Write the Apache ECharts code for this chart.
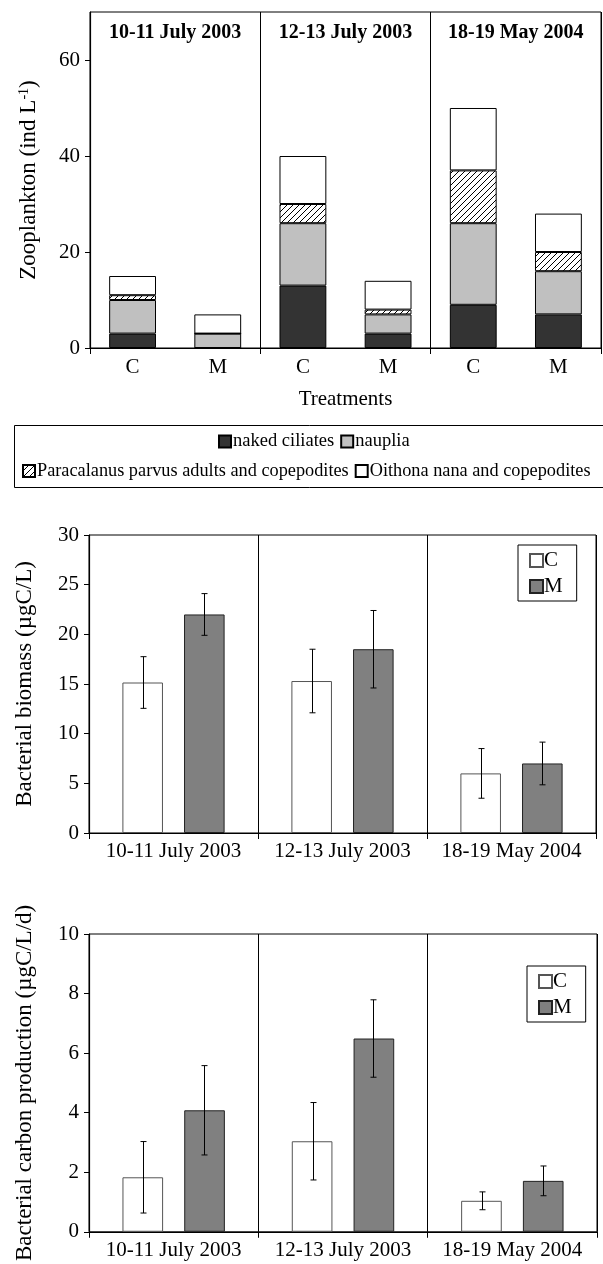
<!DOCTYPE html>
<html>
<head>
<meta charset="utf-8">
<script src="https://cdn.jsdelivr.net/npm/echarts@6/dist/echarts.min.js"></script>
<style>
html,body{margin:0;padding:0;background:#fff;}
#chart{width:603px;height:1264px;}
</style>
</head>
<body>
<div id="chart"></div>
<script>
// ---- data ----
const groups = ['10-11 July 2003', '12-13 July 2003', '18-19 May 2004'];
const treatments = ['C', 'M', 'C', 'M', 'C', 'M'];
const ciliates = [3, 0, 13, 3, 9, 7];
const nauplia = [7, 3, 13, 4, 17, 9];
const paracalanus = [1, 0, 4, 1, 11, 4];
const oithona = [4, 4, 10, 6, 13, 8];
const zooTicks = [0, 20, 40, 60];

const bioC = [15.15, 15.3, 6.0];
const bioCErr = [2.6, 3.2, 2.5];
const bioM = [22.0, 18.5, 7.0];
const bioMErr = [2.1, 3.9, 2.15];

const prodC = [1.83, 3.04, 1.04];
const prodCErr = [1.2, 1.3, 0.3];
const prodM = [4.08, 6.49, 1.71];
const prodMErr = [1.5, 1.3, 0.5];

// ---- styling helpers ----
const FONT = "'Liberation Serif', 'Times New Roman', serif";
const txt = (size, extra) => Object.assign({fontFamily: FONT, fontSize: size, color: '#000'}, extra || {});

function hatch() {
  const c = document.createElement('canvas');
  c.width = 6; c.height = 6;
  const g = c.getContext('2d');
  g.fillStyle = '#fff'; g.fillRect(0, 0, 6, 6);
  g.strokeStyle = '#000'; g.lineWidth = 1;
  g.beginPath();
  g.moveTo(0, 6); g.lineTo(6, 0);
  g.moveTo(-3, 3); g.lineTo(3, -3);
  g.moveTo(3, 9); g.lineTo(9, 3);
  g.stroke();
  return c;
}

const grids = [
  {left: 90, top: 12, width: 511, height: 336},
  {left: 89, top: 535, width: 507, height: 298},
  {left: 89, top: 934, width: 508, height: 298}
].map(g => Object.assign(g, {show: true, borderColor: '#000', borderWidth: 1, backgroundColor: 'transparent'}));

function groupAxis(gridIndex) {
  return {
    type: 'category', gridIndex: gridIndex, data: groups, position: 'bottom',
    axisLine: {show: true, lineStyle: {color: '#000', width: 1.2}},
    axisTick: {show: true, length: 6, lineStyle: {color: '#000'}},
    axisLabel: Object.assign({margin: 8, interval: 0}, txt(21)),
    splitLine: {show: true, lineStyle: {color: '#000', width: 1}}
  };
}

function valueAxis(gridIndex, max, interval, name, nameGap, extra) {
  return Object.assign({
    type: 'value', gridIndex: gridIndex, min: 0, max: max, interval: interval,
    name: name, nameLocation: 'middle', nameGap: nameGap, nameRotate: 90,
    nameTextStyle: txt(23),
    axisLine: {show: true, lineStyle: {color: '#000', width: 1.2}},
    axisTick: {show: true, length: 5, lineStyle: {color: '#000'}},
    axisLabel: Object.assign({margin: 10}, txt(21)),
    splitLine: {show: false}
  }, extra || {});
}

function errSeries(xIdx, yIdx, vals, errs, off) {
  return {
    type: 'custom', xAxisIndex: xIdx, yAxisIndex: yIdx, z: 10, silent: true,
    data: vals.map((v, i) => [i, v, errs[i]]),
    renderItem: function (params, api) {
      const i = api.value(0), v = api.value(1), e = api.value(2);
      const w = api.size([1, 0])[0];
      const c = api.coord([i, v]);
      const x = Math.round(c[0] + off * w) + 0.5;
      const yt = api.coord([i, v + e])[1];
      const yb = api.coord([i, v - e])[1];
      const st = {stroke: '#000', lineWidth: 1};
      return {type: 'group', children: [
        {type: 'line', shape: {x1: x, y1: yt, x2: x, y2: yb}, style: st},
        {type: 'line', shape: {x1: x - 3, y1: yt, x2: x + 3, y2: yt}, style: st},
        {type: 'line', shape: {x1: x - 3, y1: yb, x2: x + 3, y2: yb}, style: st}
      ]};
    }
  };
}

function pairBars(xIdx, yIdx, cVals, mVals) {
  const common = {type: 'bar', xAxisIndex: xIdx, yAxisIndex: yIdx, barWidth: '24%', barGap: '52%'};
  return [
    Object.assign({name: 'C', data: cVals, itemStyle: {color: '#fff', borderColor: '#555', borderWidth: 1}}, common),
    Object.assign({name: 'M', data: mVals, itemStyle: {color: '#808080', borderColor: '#222', borderWidth: 1}}, common)
  ];
}

function cmLegend(left, top) {
  return {
    data: ['C', 'M'], orient: 'vertical', left: left, top: top, selectedMode: false,
    backgroundColor: '#fff', borderColor: '#000', borderWidth: 1,
    padding: [5, 14, 4, 11], itemGap: 5, itemWidth: 13, itemHeight: 13, icon: 'rect',
    textStyle: txt(21, {padding: [0, 0, 0, -4]})
  };
}

const stackCommon = {type: 'bar', stack: 'z', xAxisIndex: 0, yAxisIndex: 0, barWidth: '55%'};

const option = {
  animation: false,
  backgroundColor: '#fff',
  grid: grids,
  xAxis: [
    {type: 'category', gridIndex: 0, data: treatments,
     axisLine: {show: true, lineStyle: {color: '#000', width: 1.2}},
     axisTick: {show: false}, axisLabel: Object.assign({margin: 9, interval: 0}, txt(21)),
     name: 'Treatments', nameLocation: 'middle', nameGap: 41, nameTextStyle: txt(21)},
    {type: 'category', gridIndex: 0, data: groups, position: 'bottom',
     axisLine: {show: false}, axisTick: {show: true, length: 6, lineStyle: {color: '#000'}},
     axisLabel: {show: false}, splitLine: {show: true, lineStyle: {color: '#000', width: 1}}},
    {type: 'category', gridIndex: 0, data: groups, position: 'top',
     axisLine: {show: false}, axisTick: {show: false},
     axisLabel: Object.assign({inside: true, margin: 11, interval: 0}, txt(20, {fontWeight: 'bold'})),
     splitLine: {show: false}},
    groupAxis(1),
    groupAxis(2)
  ],
  yAxis: [
    valueAxis(0, 70, 10, 'Zooplankton (ind L{s|-1})', 50, {
      nameTextStyle: txt(23, {rich: {s: {fontFamily: FONT, fontSize: 14, color: '#000', verticalAlign: 'top', lineHeight: 14}}}),
      axisLabel: Object.assign({margin: 10, customValues: zooTicks}, txt(21)),
      axisTick: {show: true, length: 5, customValues: zooTicks, lineStyle: {color: '#000'}}
    }),
    valueAxis(1, 30, 5, 'Bacterial biomass (µgC/L)', 53),
    valueAxis(2, 10, 2, 'Bacterial carbon production (µgC/L/d)', 53)
  ],
  legend: [
    {data: ['naked ciliates', 'nauplia'], left: 218, top: 432, selectedMode: false,
     itemGap: 6, itemWidth: 12, itemHeight: 12, icon: 'rect', padding: 0,
     textStyle: txt(18.5, {padding: [0, 0, 0, -3]})},
    {data: ['Paracalanus parvus adults and copepodites', 'Oithona nana and copepodites'],
     left: 22, top: 462, selectedMode: false,
     itemGap: 6, itemWidth: 12, itemHeight: 12, icon: 'rect', padding: 0,
     textStyle: txt(18.3, {padding: [0, 0, 0, -3]})},
    cmLegend(518, 545),
    cmLegend(527, 966)
  ],
  graphic: [
    {type: 'rect', shape: {x: 14.5, y: 425.5, width: 600, height: 62},
     style: {fill: 'none', stroke: '#000', lineWidth: 1}, silent: true, z: 1}
  ],
  series: [
    Object.assign({name: 'naked ciliates', data: ciliates,
      itemStyle: {color: '#333333', borderColor: '#000', borderWidth: 1}}, stackCommon),
    Object.assign({name: 'nauplia', data: nauplia,
      itemStyle: {color: '#c0c0c0', borderColor: '#000', borderWidth: 1}}, stackCommon),
    Object.assign({name: 'Paracalanus parvus adults and copepodites', data: paracalanus,
      itemStyle: {color: {image: hatch(), repeat: 'repeat'}, borderColor: '#000', borderWidth: 1}}, stackCommon),
    Object.assign({name: 'Oithona nana and copepodites', data: oithona,
      itemStyle: {color: '#fff', borderColor: '#000', borderWidth: 1}}, stackCommon),
    ...pairBars(3, 1, bioC, bioM),
    errSeries(3, 1, bioC, bioCErr, -0.18),
    errSeries(3, 1, bioM, bioMErr, 0.18),
    ...pairBars(4, 2, prodC, prodM),
    errSeries(4, 2, prodC, prodCErr, -0.18),
    errSeries(4, 2, prodM, prodMErr, 0.18)
  ]
};

const chart = echarts.init(document.getElementById('chart'), null, {renderer: 'canvas'});
chart.setOption(option);
</script>
</body>
</html>
